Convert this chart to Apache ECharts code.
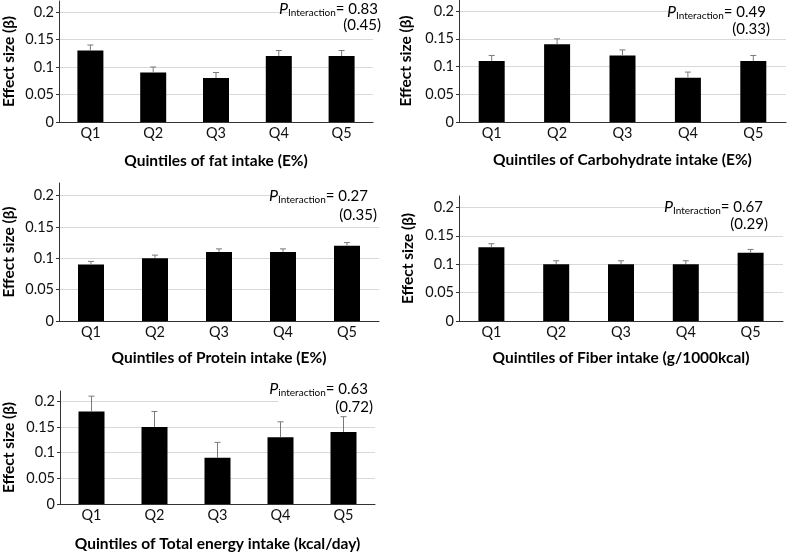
<!DOCTYPE html>
<html>
<head>
<meta charset="utf-8">
<script src="https://cdn.jsdelivr.net/npm/echarts@6/dist/echarts.min.js"></script>
<style>
  html, body { margin: 0; padding: 0; background: #fff; }
  #chart { width: 787px; height: 553px; }
</style>
</head>
<body>
<div id="chart"></div>
<script>
// data
const quintiles = ['Q1', 'Q2', 'Q3', 'Q4', 'Q5']

const fatBeta = [0.13, 0.09, 0.08, 0.12, 0.12]
const fatUpper = [0.14, 0.10, 0.09, 0.13, 0.13]
const carbBeta = [0.11, 0.14, 0.12, 0.08, 0.11]
const carbUpper = [0.12, 0.15, 0.13, 0.09, 0.12]
const proteinBeta = [0.09, 0.10, 0.11, 0.11, 0.12]
const proteinUpper = [0.095, 0.105, 0.115, 0.115, 0.125]
const fiberBeta = [0.13, 0.10, 0.10, 0.10, 0.12]
const fiberUpper = [0.136, 0.106, 0.106, 0.106, 0.126]
const energyBeta = [0.18, 0.15, 0.09, 0.13, 0.14]
const energyUpper = [0.21, 0.18, 0.12, 0.16, 0.17]

const panelTitles = [
  'Quintiles of fat intake (E%)',
  'Quintiles of Carbohydrate intake (E%)',
  'Quintiles of Protein intake (E%)',
  'Quintiles of Fiber intake (g/1000kcal)',
  'Quintiles of Total energy intake (kcal/day)'
]
const subLabels = ['Interaction', 'Interaction', 'Interaction', 'Interaction', 'interaction']
const pValues = ['0.83', '0.49', '0.27', '0.67', '0.63']
const pAdjusted = ['(0.45)', '(0.33)', '(0.35)', '(0.29)', '(0.72)']
const yTicks = [0, 0.05, 0.1, 0.15, 0.2]

const panels = [
  { beta: fatBeta, upper: fatUpper },
  { beta: carbBeta, upper: carbUpper },
  { beta: proteinBeta, upper: proteinUpper },
  { beta: fiberBeta, upper: fiberUpper },
  { beta: energyBeta, upper: energyUpper }
]

// layout (pixels)
const grids = [
  { left: 51, top: 1, width: 322, height: 121 },
  { left: 459, top: 0, width: 327, height: 122 },
  { left: 51, top: 183, width: 328, height: 138 },
  { left: 459, top: 196, width: 324, height: 125 },
  { left: 52, top: 391, width: 323, height: 122 }
]
const xNameGap = [31, 30, 29, 29, 32]
const yNameGap = [42, 45, 42, 43, 43]
const notes = [
  { r1: 378, y1: 9, r2: 381, y2: 25, cut: 288 },
  { r1: 766, y1: 12, r2: 770, y2: 29, cut: 675 },
  { r1: 368, y1: 196, r2: 377, y2: 215, cut: 282 },
  { r1: 763, y1: 207, r2: 768, y2: 224, cut: 670 },
  { r1: 368, y1: 389, r2: 373, y2: 407, cut: 278 }
]

const FONT = 'Lato'

const chart = echarts.init(document.getElementById('chart'))

function errorBar(params, api) {
  const i = api.value(0)
  const top = api.coord([i, api.value(2)])
  const bot = api.coord([i, api.value(1)])
  return {
    type: 'group',
    children: [
      { type: 'line', shape: { x1: top[0], y1: top[1], x2: bot[0], y2: bot[1] }, style: { stroke: '#7a7a7a', lineWidth: 1 } },
      { type: 'line', shape: { x1: top[0] - 3, y1: top[1], x2: top[0] + 3, y2: top[1] }, style: { stroke: '#7a7a7a', lineWidth: 1 } }
    ]
  }
}

const graphics = []
notes.forEach((n, k) => {
  const g = grids[k]
  graphics.push({
    type: 'rect', z: 100,
    shape: { x: n.cut, y: n.y1 - 9, width: g.left + g.width - n.cut + 2, height: n.y2 - n.y1 + 17 },
    style: { fill: '#fff' }
  })
  graphics.push({
    type: 'text', z: 101, x: n.r1, y: n.y1,
    style: {
      text: '{p|P}{s|' + subLabels[k] + '}{n|= ' + pValues[k] + '}',
      align: 'right', verticalAlign: 'middle',
      rich: {
        p: { fontFamily: FONT, fontSize: 16, fontStyle: 'italic', fill: '#000', color: '#000' },
        s: { fontFamily: FONT, fontSize: 10, fill: '#000', color: '#000', padding: [8, 0, 0, 0] },
        n: { fontFamily: FONT, fontSize: 15, fill: '#000', color: '#000' }
      }
    }
  })
  graphics.push({
    type: 'text', z: 101, x: n.r2, y: n.y2,
    style: { text: pAdjusted[k], align: 'right', verticalAlign: 'middle', fontFamily: FONT, fontSize: 15, fill: '#000' }
  })
})

const option = {
  animation: false,
  backgroundColor: '#fff',
  grid: grids.map(g => Object.assign({ containLabel: false }, g)),
  xAxis: grids.map((g, k) => ({
    type: 'category',
    gridIndex: k,
    data: quintiles,
    name: panelTitles[k],
    nameLocation: 'middle',
    nameGap: xNameGap[k],
    nameTextStyle: { fontFamily: FONT, fontSize: 15.5, fontWeight: 'bold', color: '#000' },
    axisLine: { lineStyle: { color: '#333', width: 1 } },
    axisTick: { show: false },
    axisLabel: { fontFamily: FONT, fontSize: 14.5, color: '#111', margin: 4 }
  })),
  yAxis: grids.map((g, k) => ({
    type: 'value',
    gridIndex: k,
    min: 0,
    max: 0.22,
    interval: 0.05,
    name: 'Effect size (β)',
    nameLocation: 'middle',
    nameGap: yNameGap[k],
    nameTextStyle: { fontFamily: FONT, fontSize: 15.5, fontWeight: 'bold', color: '#000' },
    axisLine: { show: true, lineStyle: { color: '#333', width: 1 } },
    axisTick: { show: true, length: 3, lineStyle: { color: '#333' } },
    axisLabel: {
      fontFamily: FONT, fontSize: 14.5, color: '#111', margin: 5,
      showMaxLabel: false,
      formatter: v => (yTicks.includes(Math.round(v * 100) / 100) ? String(Math.round(v * 100) / 100) : '')
    },
    splitLine: {
      show: true,
      lineStyle: { color: ['#d9d9d9', '#d9d9d9', '#d9d9d9', '#d9d9d9', '#d9d9d9', 'rgba(0,0,0,0)'], width: 1 }
    }
  })),
  series: [].concat(
    panels.map((p, k) => ({
      type: 'bar',
      xAxisIndex: k,
      yAxisIndex: k,
      data: p.beta,
      barWidth: 26,
      itemStyle: { color: '#000' },
      z: 2
    })),
    panels.map((p, k) => ({
      type: 'custom',
      xAxisIndex: k,
      yAxisIndex: k,
      renderItem: errorBar,
      data: p.beta.map((b, i) => [i, b, p.upper[i]]),
      z: 3
    }))
  ),
  graphic: { elements: graphics }
}

chart.setOption(option)
window.addEventListener('resize', () => chart.resize())
</script>
</body>
</html>
